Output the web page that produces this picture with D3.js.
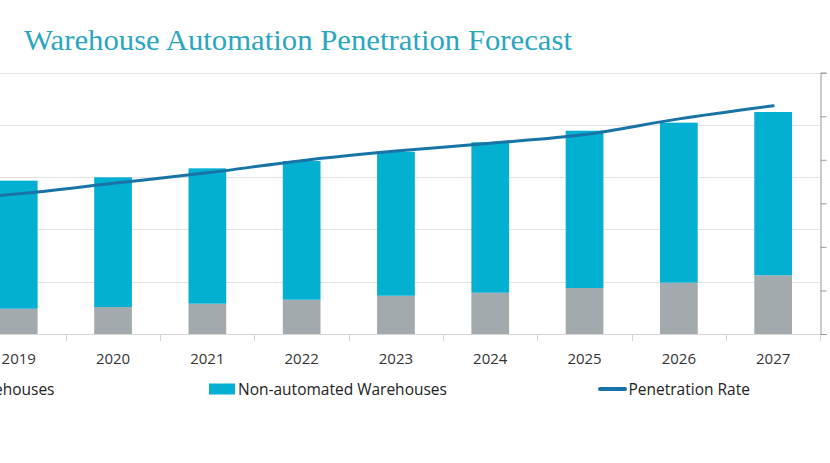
<!DOCTYPE html>
<html>
<head>
<meta charset="utf-8">
<script src="https://cdn.jsdelivr.net/npm/d3@7"></script>
<style>
  html, body { margin: 0; padding: 0; background: #ffffff; overflow: hidden; }
  svg { display: block; }
</style>
</head>
<body>
<svg id="chart" width="830" height="463"></svg>
<script>
// ---- data ----
// The reference is cropped on the left: the 2018 bar sits outside the picture,
// only the penetration line entering from the left edge reveals it.
const years = ["2018", "2019", "2020", "2021", "2022", "2023", "2024", "2025", "2026", "2027"];
const automated = [22.0, 24.2, 25.8, 29.0, 32.8, 36.6, 39.5, 44.0, 49.1, 56.2];
const nonAutomated = [120.0, 122.5, 124.1, 129.5, 132.7, 137.8, 143.9, 150.5, 153.1, 156.2];
const penetrationRate = [15.3, 16.1, 17.3, 18.5, 19.9, 21.0, 21.9, 22.9, 24.7, 26.2];
const leftTicks = [0, 50, 100, 150, 200, 250];
const rightTicks = [0, 5, 10, 15, 20, 25, 30];
const seriesNames = ["Automated Warehouses", "Non-automated Warehouses", "Penetration Rate"];
const titleText = "Warehouse Automation Penetration Forecast";

// ---- layout ----
const svg = d3.select("#chart");
const step0 = 94.3;
const plotRight = 820.3, plotLeft = plotRight - step0 * years.length, plotTop = 72.7, plotBottom = 334;
const colAuto = "#a2aaae", colNon = "#03b0d2", colLine = "#1874a6";
const font = "'Open Sans', 'Noto Sans', sans-serif";

const x = d3.scaleBand().domain(years).range([plotLeft, plotRight]).paddingInner(0.6).paddingOuter(0.3);
const yL = d3.scaleLinear().domain([0, 250]).range([plotBottom, plotTop]);
const yR = d3.scaleLinear().domain([0, 30]).range([plotBottom, plotTop]);

// title
svg.append("text")
  .attr("x", 24).attr("y", 50)
  .attr("font-family", "'Liberation Serif', 'DejaVu Serif', serif")
  .attr("font-size", 29)
  .attr("fill", "#2aa6be")
  .attr("textLength", 548).attr("lengthAdjust", "spacingAndGlyphs")
  .text(titleText);

// gridlines (left axis; its labels lie outside the cropped picture)
svg.append("g")
  .selectAll("line").data(leftTicks).join("line")
  .attr("x1", plotLeft).attr("x2", plotRight)
  .attr("y1", d => Math.round(yL(d)) + 0.5).attr("y2", d => Math.round(yL(d)) + 0.5)
  .attr("stroke", "#e2e2e2").attr("stroke-width", 1);

// stacked bars
const stackData = years.map((y, i) => ({ year: y, automated: automated[i], nonAutomated: nonAutomated[i] }));
const stacked = d3.stack().keys(["automated", "nonAutomated"])(stackData);
const colors = { automated: colAuto, nonAutomated: colNon };
svg.append("g").selectAll("g").data(stacked).join("g")
  .attr("fill", d => colors[d.key])
  .selectAll("rect").data(d => d).join("rect")
  .attr("x", d => x(d.data.year))
  .attr("width", x.bandwidth())
  .attr("y", d => yL(d[1]))
  .attr("height", d => yL(d[0]) - yL(d[1]));

// x axis
const xAxis = svg.append("g");
xAxis.append("line")
  .attr("x1", plotLeft).attr("x2", plotRight)
  .attr("y1", plotBottom + 0.5).attr("y2", plotBottom + 0.5)
  .attr("stroke", "#d6d6d6");
const step = x.step();
const boundaries = years.map(y => x(y) - step * x.paddingOuter()).concat([x(years[years.length - 1]) + x.bandwidth() + step * x.paddingOuter()]);
xAxis.selectAll("line.tick").data(boundaries).join("line")
  .attr("class", "tick")
  .attr("x1", d => Math.round(d) + 0.5).attr("x2", d => Math.round(d) + 0.5)
  .attr("y1", plotBottom).attr("y2", plotBottom + 7)
  .attr("stroke", "#d6d6d6");
xAxis.selectAll("text").data(years.filter(y => x(y) + x.bandwidth() / 2 > 0)).join("text")
  .attr("x", d => x(d) + x.bandwidth() / 2)
  .attr("y", 364)
  .attr("text-anchor", "middle")
  .attr("font-family", font).attr("font-size", 15).attr("fill", "#333")
  .text(d => d);

// right axis (labels lie outside the cropped picture)
const rAxis = svg.append("g").attr("transform", `translate(${Math.round(plotRight) + 0.5},0)`);
rAxis.call(d3.axisRight(yR).tickValues(rightTicks).tickSize(6).tickFormat(""));
rAxis.select(".domain").attr("stroke", "#9a9a9a");
rAxis.selectAll(".tick line").attr("stroke", "#9a9a9a");

// penetration line
const line = d3.line()
  .x((d, i) => x(years[i]) + x.bandwidth() / 2)
  .y(d => yR(d))
  .curve(d3.curveMonotoneX);
svg.append("path")
  .datum(penetrationRate)
  .attr("d", line)
  .attr("fill", "none")
  .attr("stroke", colLine)
  .attr("stroke-width", 3)
  .attr("stroke-linecap", "round");

// legend
const legY = 389;
const leg = svg.append("g").attr("font-family", font).attr("font-size", 15.5).attr("fill", "#222");
// Automated (mostly cropped on the left)
leg.append("rect").attr("x", -180).attr("y", legY - 5.5).attr("width", 26).attr("height", 11).attr("fill", colAuto);
leg.append("text").attr("x", 54.5).attr("y", legY + 5.5).attr("text-anchor", "end").text(seriesNames[0]);
// Non-automated
leg.append("rect").attr("x", 209).attr("y", legY - 5.5).attr("width", 26).attr("height", 11).attr("fill", colNon);
leg.append("text").attr("x", 238).attr("y", legY + 5.5).text(seriesNames[1]);
// Penetration rate
leg.append("line").attr("x1", 600).attr("x2", 625).attr("y1", legY).attr("y2", legY)
  .attr("stroke", colLine).attr("stroke-width", 4).attr("stroke-linecap", "round");
leg.append("text").attr("x", 628.5).attr("y", legY + 5.5).text(seriesNames[2]);
</script>
</body>
</html>
